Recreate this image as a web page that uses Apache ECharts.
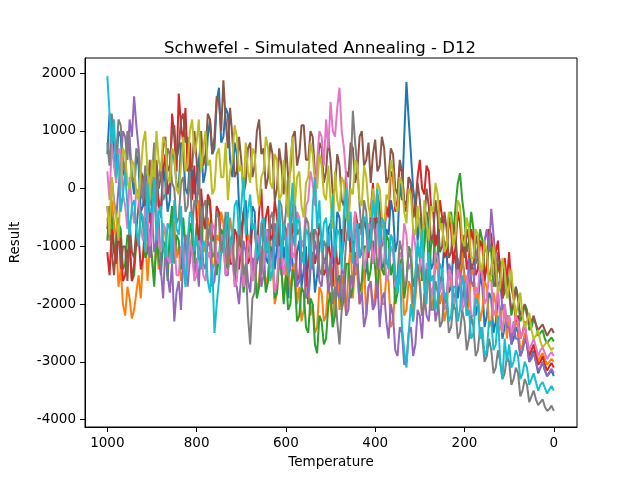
<!DOCTYPE html>
<html>
<head>
<meta charset="utf-8">
<script src="https://cdn.jsdelivr.net/npm/echarts@6/dist/echarts.min.js"></script>
<style>
  html, body { margin: 0; padding: 0; background: #fff; }
  #container { width: 640px; height: 480px; }
</style>
</head>
<body>
<div id="container"></div>
<script>
// temperature samples (x), hot to cold
var temps = [1000, 995, 990, 985, 980, 975, 970, 965, 960, 955, 950, 945, 940, 935, 930, 925, 920, 915, 910, 905,
    900, 895, 890, 885, 880, 875, 870, 865, 860, 855, 850, 845, 840, 835, 830, 825, 820, 815, 810, 805,
    800, 795, 790, 785, 780, 775, 770, 765, 760, 755, 750, 745, 740, 735, 730, 725, 720, 715, 710, 705,
    700, 695, 690, 685, 680, 675, 670, 665, 660, 655, 650, 645, 640, 635, 630, 625, 620, 615, 610, 605,
    600, 595, 590, 585, 580, 575, 570, 565, 560, 555, 550, 545, 540, 535, 530, 525, 520, 515, 510, 505,
    500, 495, 490, 485, 480, 475, 470, 465, 460, 455, 450, 445, 440, 435, 430, 425, 420, 415, 410, 405,
    400, 395, 390, 385, 380, 375, 370, 365, 360, 355, 350, 345, 340, 335, 330, 325, 320, 315, 310, 305,
    300, 295, 290, 285, 280, 275, 270, 265, 260, 255, 250, 245, 240, 235, 230, 225, 220, 215, 210, 205,
    200, 195, 190, 185, 180, 175, 170, 165, 160, 155, 150, 145, 140, 135, 130, 125, 120, 115, 110, 105,
    100, 95, 90, 85, 80, 75, 70, 65, 60, 55, 50, 45, 40, 35, 30, 25, 20, 15, 10, 5, 0];

var run1 = [600, 1300, 1100, 500, 400, 1000, 900, 300, 200, 900, 700, 200, -100, 600, 400, -400, -300, 300, 100, -600,
    -300, 100, 300, -200, -500, 400, 100, -400, -200, 700, 500, 100, 0, 800, 600, 0, -100, 500, 300, -100,
    200, 500, 800, 100, 300, 900, 1200, 600, 700, 1500, 1750, 800, 900, 1400, 1300, 500, 200, 800, 600, -300,
    -800, -400, -200, -1100, -900, -300, -400, -1300, -1100, -700, -500, -1200, -1300, -600, -700, -1400, -1000, -600, -1500, -1000,
    -1300, -1900, -800, -1300, -1600, -1100, -900, -1700, -1400, -1000, -2000, -1400, -1100, -1800, -1500, -1000, -800, -1300, -1200, -700,
    -600, -1300, -1100, -400, -500, -1200, -900, -200, -300, -1000, -800, -1500, -1200, -600, -700, -1600, -1400, -800, -900, -1300,
    -1000, -500, -600, -1400, -1300, -700, -800, -200, -400, -1100, -900, 100, -200, 900, 1850, 1200, 600, 0, -300, -900,
    -500, -1200, -1000, -400, -600, -1400, -1300, -800, -900, -1700, -1500, -900, -1100, -1800, -1700, -1100, -1200, -1900, -1600, -1200,
    -1500, -2100, -1900, -1300, -1400, -2200, -2000, -1500, -1700, -2400, -2200, -1800, -1900, -2500, -2300, -1900, -2100, -2600, -2400, -2200,
    -2300, -2700, -2600, -2400, -2500, -2900, -2800, -2600, -2700, -3000, -2900, -2800, -3000, -3200, -3100, -3000, -3150, -3250, -3200, -3150, -3250];

var run2 = [-500, -900, -200, -600, -900, -1700, -1400, -2000, -2200, -1700, -1900, -2250, -2100, -1800, -1500, -1900, -1200, -800, -1600, -1000,
    -1200, -1600, -900, -1400, -1300, -700, -800, -1300, -1100, -500, -600, -1200, -1000, -1600, -1400, -800, -900, -1300, -700, -1100,
    -800, -200, -400, -1100, -1000, -500, -700, -1400, -1300, -800, -900, -400, -600, -1300, -1100, -500, -800, -1500, -1200, -700,
    -1000, -1600, -1400, -800, -900, -1500, -1200, -1800, -1600, -1000, -1100, -1700, -1500, -900, -1300, -2000, -1800, -1200, -1400, -1900,
    -1500, -1100, -1900, -1400, -1300, -2000, -1700, -2300, -2100, -1500, -1600, -2200, -2000, -2500, -2400, -1700, -1800, -2300, -2200, -1600,
    -2000, -2400, -1600, -1200, -2100, -1500, -1700, -2200, -1400, -1000, -1900, -1300, -1500, -2000, -1800, -1300, -2200, -1700, -1700, -2100,
    -1800, -1200, -1400, -2000, -2000, -1500, -1600, -2400, -2300, -1700, -1800, -1300, -1500, -2200, -2100, -1600, -1700, -2300, -1900, -1400,
    -1600, -2200, -2000, -1500, -1500, -2100, -1900, -1300, -1400, -2000, -1800, -2300, -2100, -1500, -1600, -2000, -1900, -1300, -1500, -1000,
    -1700, -2200, -2000, -1500, -1400, -1900, -1800, -2300, -2100, -1600, -1700, -2400, -2300, -1800, -2000, -2500, -2400, -2000, -2100, -2600,
    -2200, -2600, -2500, -2300, -2400, -2800, -2700, -2500, -2600, -2900, -2800, -2700, -2750, -3000, -2900, -2850, -2950, -3050, -3000, -2950, -3000];

var run3 = [-900, -300, -500, -1000, -1200, -600, -700, -1400, -1300, -800, -900, -1600, -1500, -900, -1000, -400, -600, -1200, -1100, -700,
    -1200, -1700, -800, -1200, -1500, -900, -1000, -1600, -700, -300, -1300, -800, -900, -1400, -500, -1000, -1100, -600, -800, -1300,
    -600, -1000, -1100, -500, -700, -200, -300, -900, -900, -1500, -1200, -700, -800, -1300, -1400, -900, -1000, -1600, -1300, -800,
    -1100, -1800, -1500, -1000, -900, -1600, -1300, -1900, -1700, -1100, -1200, -1800, -1600, -1000, -1100, -1900, -1800, -1200, -1400, -2000,
    -1500, -2100, -2000, -1400, -1600, -2300, -2200, -1700, -1800, -2400, -2500, -1900, -2000, -2700, -2850, -2200, -2300, -2700, -2600, -2000,
    -1800, -2400, -2200, -1600, -1500, -2100, -1900, -1300, -1300, -1900, -1700, -1100, -1200, -1800, -1600, -1000, -1000, -1600, -1400, -900,
    -1400, -1900, -1000, -1400, -1500, -800, -900, -1500, -1300, -2000, -1800, -1300, -1200, -1900, -1600, -1000, -1100, -1700, -1500, -1000,
    -1200, -1600, -900, -500, -1400, -1000, -800, -1300, -1100, -500, -600, -1100, -1000, -600, -400, -800, -300, 100, 270, -200,
    -500, -1100, -900, -400, -700, -1300, -1200, -700, -900, -1500, -1400, -900, -1100, -1700, -1600, -1100, -1300, -1800, -1700, -1400,
    -1800, -2200, -2000, -1700, -1900, -2300, -2200, -2000, -2100, -2450, -2400, -2250, -2350, -2550, -2500, -2450, -2600, -2680, -2620, -2580, -2650];

var run4 = [-1100, -1500, -700, -1100, -1300, -800, -900, -1600, -1500, -1100, -1000, -1600, -1300, -900, -800, -1400, -1200, -500, -600, -1000,
    -300, 400, 200, -300, -400, 300, 600, -100, 100, 1300, 900, 300, 1650, 1100, 800, 1400, 300, 800, -200, 400,
    -500, -1000, 0, -500, -700, -100, -200, -800, -900, -300, -400, -1100, -1000, -500, -600, -1300, -1300, -700, -800, -1400,
    -1000, -400, -600, -1300, -1200, -600, -700, -1100, -400, 0, -900, -500, -300, -900, -800, -200, -500, -1000, -1100, -600,
    -700, -1300, -1200, -600, -800, -1600, -1500, -900, -1000, -1700, -1300, -800, -700, -1300, -1100, -600, -900, -1500, -1400, -900,
    -1200, -1700, -800, -1300, -1300, -700, -900, -200, -500, -1100, -1000, -400, -600, -1200, -1100, -500, -700, -1200, -400, 100,
    -700, -100, -300, -1000, -900, -300, -500, 300, 200, -400, -200, 400, 300, -300, -400, 200, 100, -500, -300, 200,
    500, 0, -100, 400, 300, -300, -400, -1000, -800, -200, -500, -1200, -1100, -500, -700, -1300, -1000, -400, -600, -1100,
    -800, -1400, -1200, -700, -900, -1500, -1400, -900, -1000, -1600, -1300, -700, -800, -1300, -1100, -900, -1500, -1900, -1200, -1600,
    -1100, -1700, -1900, -2300, -2200, -2600, -2500, -2300, -2700, -2900, -2800, -2700, -2900, -3050, -3000, -2900, -3050, -3150, -3080, -3020, -3100];

var run5 = [-300, -800, 200, -200, -500, 0, 400, 1000, 900, 500, 1200, 900, 1600, 1100, 700, 200, -200, 300, -800, -1200,
    -400, -1100, -900, -500, -1400, -1900, -1000, -1500, -1800, -1300, -2300, -1800, -1600, -2100, -1200, -800, -1700, -1200, -1000, -1500,
    -1200, -1700, -800, -1300, -1400, -900, -1000, -1700, -1600, -1100, -1300, -800, -900, -1500, -1500, -900, -1100, -1600, -1700, -2000,
    -1500, -900, -1100, -1600, -1800, -1200, -1300, -800, -1000, -1700, -1500, -1000, -700, -1300, -1200, -600, -800, -1400, -1300, -800,
    -900, -1500, -1400, -800, -1000, -1700, -1600, -1100, -1200, -1900, -1800, -1300, -1400, -900, -1100, -1600, -1700, -1200, -1300, -1800,
    -1600, -1000, -1200, -1800, -1900, -1400, -1500, -2200, -2100, -1500, -1700, -1200, -1300, -2000, -1800, -2400, -2200, -1700, -1600, -2100,
    -2000, -1600, -2400, -1900, -1800, -2300, -2600, -2000, -2200, -2800, -2900, -2400, -2500, -3050, -3000, -2500, -2400, -2900, -2700, -2100,
    -2200, -2600, -1800, -2200, -2300, -1800, -1700, -2300, -2100, -1600, -1500, -2000, -1900, -1300, -1400, -1900, -1800, -1200, -1500, -2000,
    -1600, -2000, -1200, -1600, -1700, -1200, -1000, -1500, -1400, -900, -700, -1100, -350, -800, -1200, -1700, -1600, -2100, -2000, -2400,
    -2400, -2700, -2300, -2600, -2600, -2900, -2800, -2600, -2700, -3000, -2950, -2850, -3000, -3150, -3100, -3000, -3150, -3250, -3180, -3120, -3200];

var run6 = [-700, -300, -1100, -1500, -900, -500, -1400, -1000, -1000, -1600, -600, -1100, -1200, -700, -300, 300, 200, -400, -100, 500,
    0, -400, 500, 0, 200, 700, 900, 300, 400, 1000, 1100, 500, 700, 1200, 1300, 800, 900, 200, 400, 1000,
    500, -100, 1000, 400, 600, 1300, 1200, 600, 900, 1600, 1500, 1000, 1880, 1200, 700, 1400, 900, 200, 300, 900,
    500, -100, 100, 700, 800, 200, 400, 1000, 1200, 600, 700, 0, 200, 800, 600, -200, 0, 700, 400, -100,
    800, 200, 300, 900, 1000, 400, 600, 1100, 1100, 500, 500, 1000, 900, 300, 200, 800, 700, 100, 300, 900,
    500, -100, 0, 600, 400, -200, -300, 300, 200, 800, 700, 100, 300, 900, 1000, 400, 500, 800, 100, 600,
    850, 300, 400, 900, 700, 100, 200, 700, 600, 0, -100, 500, 300, -200, -300, 200, 100, -500, -400, 100,
    -200, -700, -600, 0, -300, -900, -800, -200, -500, -1100, -1000, -400, -700, -1200, -1100, -600, -800, -1400, -1300, -800,
    -1200, -700, -900, -1400, -1300, -800, -1000, -1500, -1500, -1000, -1100, -1600, -1400, -1000, -1700, -1300, -1500, -1900, -1800, -1500,
    -1800, -2100, -2000, -1700, -1900, -2200, -2100, -2000, -2200, -2350, -2300, -2200, -2350, -2450, -2400, -2350, -2450, -2550, -2480, -2420, -2500];

var run7 = [300, -200, 800, 400, 100, 700, 600, -100, -300, -700, 200, -300, -600, 0, -100, -700, -900, -300, -400, -1000,
    -800, -200, -300, -900, -1100, -600, -700, -1200, -1300, -800, -900, -1500, -1500, -1000, -1000, -1600, -1400, -900, -1100, -1600,
    -1500, -900, -1000, -1500, -1600, -1100, -1200, -600, -700, -1200, -1300, -800, -900, -1500, -1400, -900, -1100, -1700, -1600, -1000,
    -1100, -1700, -1500, -900, -1000, -1600, -1400, -800, -900, -1500, -1300, -700, -800, -1400, -1200, -1800, -1600, -1000, -1100, -1500,
    -1200, -600, -700, -1200, -1100, -400, -500, -1000, -900, -300, -200, 300, 100, -300, 500, 1000, 900, 400, 1200, 700,
    1500, 1000, 900, 1400, 1750, 1000, 700, 200, -300, -800, -900, -400, -1300, -700, -800, -1400, -1200, -600, -700, -1300,
    -1000, -600, -1400, -900, -900, -1600, -1500, -1000, -1100, -1700, -1600, -1100, -1200, -600, -800, -1400, -1300, -700, -1000, -1500,
    -1400, -900, -1800, -1300, -1300, -1900, -1700, -1100, -1200, -1800, -1600, -2100, -2000, -1400, -1500, -2100, -1900, -1400, -1600, -2100,
    -2000, -1500, -1700, -2200, -2200, -1700, -1800, -1300, -1500, -2000, -1900, -1500, -1600, -2200, -2100, -1700, -2300, -2500, -2000, -2300,
    -2200, -2500, -2400, -2200, -2300, -2600, -2500, -2350, -2600, -2800, -2700, -2600, -2750, -2900, -2800, -2750, -2850, -2950, -2880, -2830, -2900];

var run8 = [800, 400, 1300, 900, 600, 1200, 1100, 500, 300, 1000, 900, 200, 100, 700, 600, -100, -200, 400, 300, -300,
    200, 800, -300, 200, 400, -200, -100, 700, 600, 100, 0, -600, -500, 100, 200, -400, -300, 300, -700, -200,
    -300, 300, -800, -300, -200, -900, -600, -1200, -1100, -400, -500, -1100, -900, -400, -1400, -900, -800, -1500, -1200, -600,
    -800, -1500, -1300, -2200, -2700, -1900, -1800, -1200, -1000, -1500, -600, -1100, -1100, -500, -400, -1000, -900, -200, -300, -800,
    -400, 200, -900, -300, -200, -800, -700, -1200, -1100, -500, -600, -1300, -1300, -700, -800, -1400, -1500, -900, -1000, -1600,
    -1200, -2000, -1700, -2300, -2700, -2100, -1500, -900, -600, 300, 1350, 800, 400, -300, -800, -200, -400, -1100, -1000, -500,
    -800, -1400, -1200, -600, -700, -1300, -1300, -800, -900, -1600, -1500, -900, -1100, -1700, -1600, -1100, -1200, -2000, -1800, -1300,
    -1700, -2200, -2000, -1400, -1500, -2100, -2100, -1600, -1800, -2400, -2300, -1800, -1900, -2500, -2400, -2000, -2100, -2600, -2500, -2100,
    -2300, -2800, -2600, -2200, -2400, -2900, -2800, -2400, -2600, -3000, -2900, -2600, -2800, -3200, -3100, -2800, -3000, -3300, -3200, -2900,
    -3000, -3400, -3300, -3100, -3200, -3600, -3500, -3300, -3400, -3700, -3600, -3500, -3650, -3750, -3700, -3650, -3780, -3850, -3820, -3760, -3850];

var run9 = [-300, -800, 200, -300, -500, -900, 100, 700, 600, 100, 0, 500, 400, -100, -200, 300, 800, 1000, 300, -200,
    500, 0, 1000, 500, 300, 900, 800, 200, 100, 700, 600, 0, -100, 400, 900, 300, 400, 1000, 1200, 600,
    800, 1200, 300, 700, 1000, 400, 500, -100, 0, 600, 700, 200, 200, 800, -200, 300, 500, 1100, 900, 300,
    400, -100, 800, 300, 100, 700, 600, 0, -300, 200, 300, 900, 700, 100, 0, 600, 500, -200, -100, 500,
    0, -500, 500, 900, -300, 200, 300, -300, -500, 100, 200, 800, 600, 100, 0, 600, 400, -100, -200, 400,
    -200, -700, 300, -200, -400, 200, 100, -500, -600, 0, -100, 500, 400, -200, -300, 400, 200, -300, -500, 0,
    -500, 100, 0, -500, -700, -100, -200, 500, 300, -300, -400, 200, 100, -400, -600, 0, -100, -700, -800, -300,
    -700, -1100, -200, -600, -900, -300, -400, 100, -100, -700, -600, -1100, -1000, -400, -500, -1000, -800, -200, -300, -900,
    -1000, -500, -700, -1200, -1200, -700, -800, -1400, -1400, -900, -1100, -1600, -1500, -1000, -1300, -1800, -1700, -1200, -1400, -1900,
    -1700, -1400, -1900, -2200, -2000, -1800, -2200, -2400, -2300, -2150, -2450, -2600, -2550, -2450, -2650, -2750, -2700, -2650, -2730, -2800, -2750];

var run10 = [1950, 1300, 800, 1200, 200, 600, -400, -100, 300, -300, -800, -300, -200, -700, -1000, -400, -500, -1100, 100, -400,
    -400, 200, -900, -400, -300, -1000, -1200, -600, -700, -1300, -200, -700, -800, -300, -1300, -1700, -900, -400, -500, -1100,
    -800, -1200, -1400, -900, -1000, -1600, -1800, -1300, -2500, -2000, -1600, -1100, -1100, -700, -400, -1000, -900, -300, -200, -800,
    -300, 200, -800, -400, -100, -700, -600, -1200, -1100, -600, -500, -1100, -900, -1600, -1400, -900, -700, -200, -1200, -600,
    -900, -1500, -400, 100, -1000, -500, -600, -1200, -1300, -700, -800, -1400, -300, 200, -700, -200, -1100, -600, -500, -1000,
    -700, -100, -1200, -700, -800, -1400, -400, 0, -900, -400, -1300, -800, -600, -1200, -1000, -500, -500, -1100, -800, -200,
    -500, 0, -1000, -500, -600, -1200, -1400, -800, -900, -1500, -1800, -1300, -2400, -2800, -3100, -2500, -2000, -2300, -1500, -900,
    -1200, -700, -1600, -2000, -1100, -1600, -1500, -2100, -1900, -1300, -1400, -1900, -1800, -2300, -2200, -1700, -1700, -2300, -2100, -1500,
    -1700, -2200, -2100, -2600, -2500, -1900, -2000, -2600, -2400, -2900, -2800, -2300, -2300, -2800, -2700, -2200, -3000, -3300, -2600, -3000,
    -2700, -3100, -3000, -2800, -2900, -3300, -3200, -3000, -3100, -3400, -3300, -3200, -3350, -3500, -3400, -3350, -3450, -3550, -3480, -3420, -3500];

var runs = [run1, run2, run3, run4, run5, run6, run7, run8, run9, run10];
var colors = ['#1f77b4', '#ff7f0e', '#2ca02c', '#d62728', '#9467bd',
    '#8c564b', '#e377c2', '#7f7f7f', '#bcbd22', '#17becf'];
var xTicks = [0, 200, 400, 600, 800, 1000];
var yTicks = [-4000, -3000, -2000, -1000, 0, 1000, 2000];

var font = 'DejaVu Sans';
var myChart = echarts.init(document.getElementById('container'));

var series = runs.map(function (run, k) {
    return {
        type: 'line',
        data: temps.map(function (t, i) { return [t, run[i]]; }),
        showSymbol: false,
        symbol: 'none',
        silent: true,
        lineStyle: { width: 2, color: colors[k] },
        z: 2 + k
    };
});

function plain(v) {
    return String(v);
}

var option = {
    backgroundColor: '#ffffff',
    animation: false,
    title: {
        text: 'Schwefel - Simulated Annealing - D12',
        left: 'center',
        top: 35,
        textStyle: { fontFamily: font, fontSize: 16.5, fontWeight: 'normal', color: '#000' }
    },
    grid: {
        left: 81, right: 63, top: 58, bottom: 53,
        show: true, borderColor: '#000', borderWidth: 1, backgroundColor: 'transparent'
    },
    xAxis: {
        type: 'value',
        inverse: true,
        min: -52,
        max: 1050,
        name: 'Temperature',
        nameLocation: 'middle',
        nameGap: 28,
        nameTextStyle: { fontFamily: font, fontSize: 13.5, color: '#000' },
        axisLine: { show: true, onZero: false, lineStyle: { color: '#000', width: 1 } },
        axisTick: { show: true, length: 5, lineStyle: { color: '#000' }, customValues: xTicks },
        axisLabel: { fontFamily: font, fontSize: 13.5, color: '#000', margin: 9, customValues: xTicks, formatter: plain },
        splitLine: { show: false }
    },
    yAxis: {
        type: 'value',
        min: -4130,
        max: 2265,
        name: 'Result',
        nameLocation: 'middle',
        nameGap: 63,
        nameRotate: 90,
        nameTextStyle: { fontFamily: font, fontSize: 13.5, color: '#000' },
        axisLine: { show: true, onZero: false, lineStyle: { color: '#000', width: 1 } },
        axisTick: { show: true, length: 5, lineStyle: { color: '#000' }, customValues: yTicks },
        axisLabel: { fontFamily: font, fontSize: 13.5, color: '#000', margin: 9, customValues: yTicks, formatter: plain },
        splitLine: { show: false }
    },
    series: series
};

myChart.setOption(option, true);
</script>
</body>
</html>
